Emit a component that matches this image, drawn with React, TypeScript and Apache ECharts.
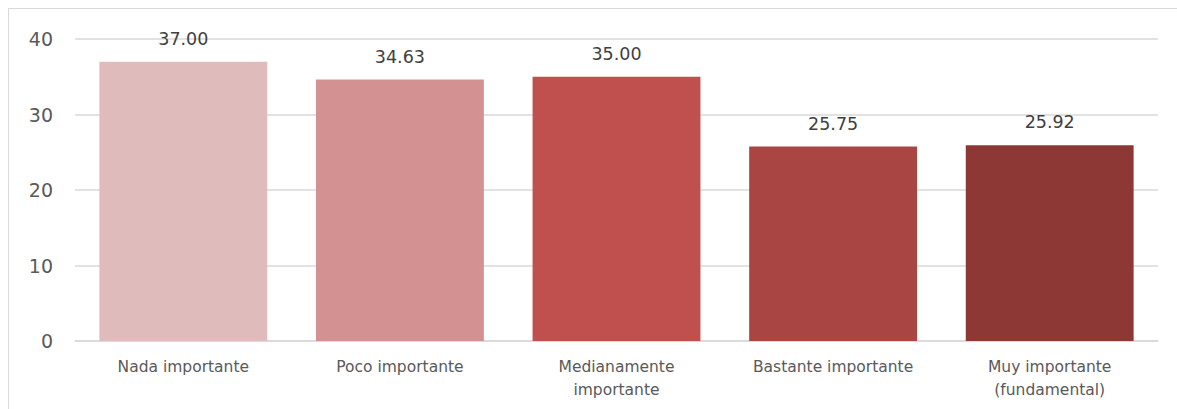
import React, { useEffect, useRef } from "react";
import * as echarts from "echarts";

const categories = [
  "Nada importante",
  "Poco importante",
  "Medianamente\nimportante",
  "Bastante importante",
  "Muy importante\n(fundamental)",
];
const values = [37.0, 34.63, 35.0, 25.75, 25.92];
const barColors = ["#E0BBBB", "#D39191", "#C0504D", "#A94644", "#8E3836"];
const yTicks = [0, 10, 20, 30, 40];

const FONT = "'DejaVu Sans', sans-serif";

export default function App() {
  const ref = useRef<HTMLDivElement>(null);
  useEffect(() => {
    document.documentElement.style.overflow = "hidden";
    document.body.style.overflow = "hidden";
    const chart = echarts.init(ref.current!, null, { renderer: "svg" });
    chart.setOption({
      animation: false,
      grid: { left: 66, right: 18, top: 30, bottom: 68 },
      xAxis: {
        type: "category",
        data: categories,
        axisLine: { lineStyle: { color: "#D9D9D9", width: 1.5 } },
        axisTick: { show: false },
        axisLabel: {
          color: "#595959",
          fontFamily: FONT,
          fontSize: 15.5,
          margin: 14,
          lineHeight: 23,
          interval: 0,
        },
      },
      yAxis: {
        type: "value",
        min: yTicks[0],
        max: yTicks[yTicks.length - 1],
        interval: 10,
        axisLine: { show: false },
        axisTick: { show: false },
        splitLine: { lineStyle: { color: "#D9D9D9", width: 1.5 } },
        axisLabel: {
          color: "#595959",
          fontFamily: FONT,
          fontSize: 19,
          margin: 22,
        },
      },
      series: [
        {
          type: "bar",
          data: values.map((v, i) => ({ value: v, itemStyle: { color: barColors[i] } })),
          barCategoryGap: "22.5%",
          label: {
            show: true,
            position: "top",
            distance: 14,
            color: "#404040",
            fontFamily: FONT,
            fontSize: 17.5,
            formatter: (p: any) => p.value.toFixed(2),
          },
        },
      ],
    });
    return () => chart.dispose();
  }, []);
  return (
    <div
      style={{
        position: "absolute",
        left: 8,
        top: 8,
        width: 1180,
        height: 410,
        borderTop: "1.5px solid #D9D9D9",
        borderLeft: "1.5px solid #D9D9D9",
        boxSizing: "border-box",
        overflow: "hidden",
      }}
    >
      <div ref={ref} style={{ width: 1167, height: 400 }} />
    </div>
  );
}
